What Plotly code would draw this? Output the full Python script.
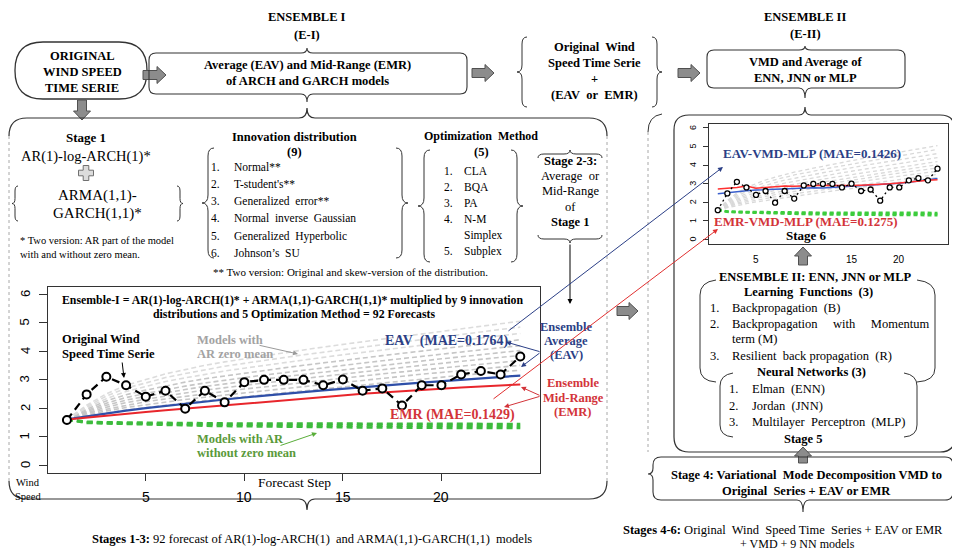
import plotly.graph_objects as go

W, H = 960, 553
OX, OY = 8, 8   # page body margin of the browser: figure starts at (8, 8)

# ---------------- data ----------------
STEPS = list(range(1, 25))
ORIGINAL = [1.58, 2.48, 3.10, 2.80, 2.40, 2.61, 1.98, 2.61, 2.20, 2.91, 2.99, 2.99,
            2.99, 2.80, 3.00, 2.61, 2.69, 2.09, 2.80, 2.80, 3.18, 3.30, 3.18, 3.81]
EAV = [1.60, 1.71, 1.81, 1.91, 2.00, 2.08, 2.16, 2.23, 2.30, 2.37, 2.44, 2.50,
       2.56, 2.62, 2.68, 2.73, 2.78, 2.84, 2.89, 2.94, 2.99, 3.04, 3.09, 3.14]
EMR = [1.60, 1.67, 1.74, 1.80, 1.86, 1.92, 1.98, 2.04, 2.10, 2.16, 2.22, 2.28,
       2.34, 2.40, 2.45, 2.50, 2.55, 2.60, 2.64, 2.68, 2.72, 2.76, 2.80, 2.83]
GRAY_MODELS = [
    [1.60, 1.72, 1.83, 1.93, 2.02, 2.10, 2.18, 2.26, 2.33, 2.40, 2.47, 2.54, 2.61, 2.68, 2.75, 2.82, 2.89, 2.96, 3.03, 3.09, 3.15, 3.21, 3.27, 3.33],
    [1.60, 1.76, 1.90, 2.02, 2.12, 2.21, 2.30, 2.38, 2.46, 2.53, 2.61, 2.68, 2.75, 2.83, 2.90, 2.97, 3.04, 3.12, 3.19, 3.25, 3.31, 3.38, 3.44, 3.50],
    [1.60, 1.80, 1.96, 2.10, 2.22, 2.32, 2.41, 2.51, 2.59, 2.67, 2.74, 2.82, 2.90, 2.97, 3.05, 3.12, 3.20, 3.27, 3.34, 3.41, 3.48, 3.54, 3.61, 3.67],
    [1.60, 1.83, 2.03, 2.19, 2.31, 2.43, 2.53, 2.63, 2.72, 2.80, 2.88, 2.96, 3.04, 3.12, 3.20, 3.27, 3.35, 3.43, 3.50, 3.57, 3.64, 3.71, 3.78, 3.85],
    [1.60, 1.87, 2.10, 2.28, 2.41, 2.54, 2.65, 2.76, 2.85, 2.93, 3.02, 3.10, 3.18, 3.26, 3.35, 3.42, 3.50, 3.58, 3.66, 3.73, 3.80, 3.87, 3.95, 4.02],
    [1.60, 1.91, 2.17, 2.37, 2.51, 2.65, 2.77, 2.88, 2.98, 3.07, 3.16, 3.24, 3.33, 3.41, 3.50, 3.58, 3.66, 3.74, 3.82, 3.89, 3.97, 4.04, 4.12, 4.19],
    [1.60, 1.96, 2.25, 2.47, 2.63, 2.78, 2.91, 3.03, 3.13, 3.22, 3.32, 3.41, 3.50, 3.59, 3.67, 3.76, 3.84, 3.92, 4.00, 4.08, 4.16, 4.24, 4.32, 4.40],
    [1.60, 2.01, 2.33, 2.58, 2.76, 2.93, 3.06, 3.19, 3.30, 3.40, 3.50, 3.59, 3.68, 3.78, 3.87, 3.95, 4.04, 4.12, 4.21, 4.29, 4.37, 4.46, 4.54, 4.62],
    [1.60, 2.05, 2.42, 2.70, 2.88, 3.07, 3.21, 3.35, 3.47, 3.57, 3.68, 3.77, 3.87, 3.96, 4.06, 4.15, 4.24, 4.32, 4.41, 4.50, 4.58, 4.67, 4.76, 4.84],
    [1.60, 2.10, 2.50, 2.80, 3.00, 3.20, 3.35, 3.50, 3.62, 3.73, 3.84, 3.94, 4.04, 4.14, 4.24, 4.33, 4.42, 4.51, 4.60, 4.69, 4.78, 4.87, 4.96, 5.05],
]
GREEN_MODELS = [
    [1.60, 1.52, 1.50, 1.49, 1.48, 1.48, 1.47, 1.47, 1.46, 1.46, 1.46, 1.45, 1.45, 1.45, 1.45, 1.44, 1.44, 1.44, 1.44, 1.44, 1.44, 1.44, 1.44, 1.44],
    [1.60, 1.50, 1.48, 1.46, 1.45, 1.44, 1.43, 1.42, 1.41, 1.41, 1.40, 1.40, 1.39, 1.39, 1.39, 1.38, 1.38, 1.38, 1.38, 1.37, 1.37, 1.37, 1.37, 1.37],
    [1.60, 1.48, 1.46, 1.44, 1.42, 1.41, 1.39, 1.38, 1.37, 1.36, 1.35, 1.34, 1.34, 1.33, 1.33, 1.32, 1.32, 1.31, 1.31, 1.31, 1.30, 1.30, 1.30, 1.30],
]
EAV_VMD_MLP = [2.46, 2.52, 2.58, 2.62, 2.66, 2.68, 2.70, 2.72, 2.76, 2.80, 2.79, 2.77,
               2.80, 2.83, 2.85, 2.88, 2.92, 2.95, 2.99, 3.03, 3.08, 3.14, 3.20, 3.28]
EMR_VMD_MLP = [2.72, 2.76, 2.80, 2.88, 2.76, 2.80, 2.84, 2.88, 2.86, 2.88, 2.90, 2.92,
               2.90, 2.88, 2.90, 2.92, 2.94, 2.96, 3.00, 3.04, 3.10, 3.14, 3.18, 3.22]
MAIN_XTICKS = [5, 10, 15, 20]
INSET_XTICKS = [5, 15, 20]
YTICKS = [0, 1, 2, 3, 4, 5, 6]

SERIF = "Liberation Serif"
SANS = "Liberation Sans"
BLUE_TXT = "#2b3f86"
RED_TXT = "#d3343a"


def xd(px):
    return (px - OX) / (W - OX)


def yd(py):
    return 1 - (py - OY) / (H - OY)


fig = go.Figure()

# ---------------- main chart traces ----------------
for i, g in enumerate(GRAY_MODELS):
    fig.add_trace(go.Scatter(x=STEPS, y=g, mode="lines", xaxis="x", yaxis="y",
                             line=dict(color="#c6c6c6" if i < 7 else "#dcdcdc", width=1.6, dash="5px,3px"),
                             hoverinfo="skip"))
for g in GREEN_MODELS:
    fig.add_trace(go.Scatter(x=STEPS, y=g, mode="lines", xaxis="x", yaxis="y",
                             line=dict(color="#3dbb3d", width=2.6, dash="6px,4px"), hoverinfo="skip"))
fig.add_trace(go.Scatter(x=STEPS, y=EAV, mode="lines", xaxis="x", yaxis="y",
                         line=dict(color="#2f4fa8", width=2.2)))
fig.add_trace(go.Scatter(x=STEPS, y=EMR, mode="lines", xaxis="x", yaxis="y",
                         line=dict(color="#e8262c", width=2.0)))
fig.add_trace(go.Scatter(x=STEPS, y=ORIGINAL, mode="lines+markers", xaxis="x", yaxis="y",
                         line=dict(color="black", width=2.2, dash="8px,5px"),
                         marker=dict(symbol="circle", size=8, color="white",
                                     line=dict(color="black", width=2))))

# ---------------- inset chart traces ----------------
for g in GRAY_MODELS:
    fig.add_trace(go.Scatter(x=STEPS, y=g, mode="lines", xaxis="x2", yaxis="y2",
                             line=dict(color="#d9d9d9", width=1.3, dash="4px,3px"), hoverinfo="skip"))
for g in GREEN_MODELS:
    fig.add_trace(go.Scatter(x=STEPS, y=g, mode="lines", xaxis="x2", yaxis="y2",
                             line=dict(color="#3dcc3d", width=2.2, dash="4px,3px"), hoverinfo="skip"))
fig.add_trace(go.Scatter(x=STEPS, y=EAV_VMD_MLP, mode="lines", xaxis="x2", yaxis="y2",
                         line=dict(color="#3a5fcd", width=1.5)))
fig.add_trace(go.Scatter(x=STEPS, y=EMR_VMD_MLP, mode="lines", xaxis="x2", yaxis="y2",
                         line=dict(color="#ff3030", width=1.5)))
fig.add_trace(go.Scatter(x=STEPS, y=ORIGINAL, mode="lines+markers", xaxis="x2", yaxis="y2",
                         line=dict(color="black", width=1.3, dash="2px,3px"),
                         marker=dict(symbol="circle", size=5, color="white",
                                     line=dict(color="black", width=1.3))))

# dummy trace on the canvas axes (pixel coordinates)
fig.add_trace(go.Scatter(x=[OX], y=[OY], xaxis="x3", yaxis="y3", mode="markers",
                         marker=dict(opacity=0), hoverinfo="skip"))

# ---------------- helpers ----------------
shapes = []
anns = []


def f(v):
    return f"{v:.1f}"


def pshape(path, color="#333", width=1.2, dash="solid", fill=None):
    d = dict(type="path", path=path, xref="x3", yref="y3", layer="above",
             line=dict(color=color, width=width, dash=dash))
    if fill:
        d["fillcolor"] = fill
    shapes.append(d)


def lshape(x0, y0, x1, y1, color="#333", width=1.0, dash="solid"):
    shapes.append(dict(type="line", x0=x0, y0=y0, x1=x1, y1=y1, xref="x3", yref="y3",
                       layer="above", line=dict(color=color, width=width, dash=dash)))


def rbox(x0, y0, x1, y1, r, top=None, bottom=None, left=None, right=None):
    p = [f"M{f(x0 + r)},{f(y0)}"]
    if top:
        xc, t = top
        p += [f"L{f(xc - 6)},{f(y0)}", f"Q{f(xc)},{f(y0)} {f(xc)},{f(y0 - t)}",
              f"Q{f(xc)},{f(y0)} {f(xc + 6)},{f(y0)}"]
    p += [f"L{f(x1 - r)},{f(y0)}", f"Q{f(x1)},{f(y0)} {f(x1)},{f(y0 + r)}"]
    if right:
        yc, t = right
        p += [f"L{f(x1)},{f(yc - 6)}", f"Q{f(x1)},{f(yc)} {f(x1 + t)},{f(yc)}",
              f"Q{f(x1)},{f(yc)} {f(x1)},{f(yc + 6)}"]
    p += [f"L{f(x1)},{f(y1 - r)}", f"Q{f(x1)},{f(y1)} {f(x1 - r)},{f(y1)}"]
    if bottom:
        xc, t = bottom
        p += [f"L{f(xc + 6)},{f(y1)}", f"Q{f(xc)},{f(y1)} {f(xc)},{f(y1 + t)}",
              f"Q{f(xc)},{f(y1)} {f(xc - 6)},{f(y1)}"]
    p += [f"L{f(x0 + r)},{f(y1)}", f"Q{f(x0)},{f(y1)} {f(x0)},{f(y1 - r)}"]
    if left:
        yc, t = left
        p += [f"L{f(x0)},{f(yc + 6)}", f"Q{f(x0)},{f(yc)} {f(x0 - t)},{f(yc)}",
              f"Q{f(x0)},{f(yc)} {f(x0)},{f(yc - 6)}"]
    p += [f"L{f(x0)},{f(y0 + r)}", f"Q{f(x0)},{f(y0)} {f(x0 + r)},{f(y0)}", "Z"]
    return " ".join(p)


def vbrace(xt, xb, y0, y1, yt=None, r=7):
    yt = (y0 + y1) / 2 if yt is None else yt
    xm = (xt + xb) / 2
    return (f"M{f(xb)},{f(y0)} Q{f(xm)},{f(y0)} {f(xm)},{f(y0 + r)} L{f(xm)},{f(yt - r)} "
            f"Q{f(xm)},{f(yt)} {f(xt)},{f(yt)} Q{f(xm)},{f(yt)} {f(xm)},{f(yt + r)} "
            f"L{f(xm)},{f(y1 - r)} Q{f(xm)},{f(y1)} {f(xb)},{f(y1)}")


def hbrace(yt, yb, x0, x1, xt=None, r=7):
    xt = (x0 + x1) / 2 if xt is None else xt
    ym = (yt + yb) / 2
    return (f"M{f(x0)},{f(yb)} Q{f(x0)},{f(ym)} {f(x0 + r)},{f(ym)} L{f(xt - r)},{f(ym)} "
            f"Q{f(xt)},{f(ym)} {f(xt)},{f(yt)} Q{f(xt)},{f(ym)} {f(xt + r)},{f(ym)} "
            f"L{f(x1 - r)},{f(ym)} Q{f(x1)},{f(ym)} {f(x1)},{f(yb)}")


def arrow_right(x0, x1, yc, bh=4.5, hh=8.5, hl=9):
    xh = x1 - hl
    p = (f"M{f(x0)},{f(yc - bh)} L{f(xh)},{f(yc - bh)} L{f(xh)},{f(yc - hh)} L{f(x1)},{f(yc)} "
         f"L{f(xh)},{f(yc + hh)} L{f(xh)},{f(yc + bh)} L{f(x0)},{f(yc + bh)} Z")
    pshape(p, color="#505050", width=1, fill="#8c8c8c")


def arrow_vert(xc, y_tail, y_tip, bh=4.5, hh=8.5, hl=9):
    s = 1 if y_tip > y_tail else -1
    yh = y_tip - s * hl
    p = (f"M{f(xc - bh)},{f(y_tail)} L{f(xc - bh)},{f(yh)} L{f(xc - hh)},{f(yh)} L{f(xc)},{f(y_tip)} "
         f"L{f(xc + hh)},{f(yh)} L{f(xc + bh)},{f(yh)} L{f(xc + bh)},{f(y_tail)} Z")
    pshape(p, color="#505050", width=1, fill="#8c8c8c")


def txt(x, y, text, size=12.5, color="black", anchor="center", family=SERIF,
        xref="x3", yref="y3", angle=0):
    anns.append(dict(x=x, y=y, xref=xref, yref=yref, text=text, showarrow=False,
                     xanchor=anchor, yanchor="middle", textangle=angle,
                     font=dict(family=family, size=size, color=color)))


def arr(x_tail, y_tail, x_head, y_head, color="black", width=1.0, head=2, size=1.0):
    anns.append(dict(x=x_head, y=y_head, ax=x_tail, ay=y_tail, xref="x3", yref="y3",
                     axref="x3", ayref="y3", text="", showarrow=True, arrowhead=head,
                     arrowsize=size, arrowwidth=width, arrowcolor=color, standoff=0,
                     startstandoff=0))


# ---------------- tick labels placed like the R figure ----------------
for t in MAIN_XTICKS:
    txt(t, 497, str(t), 14, family=SANS, xref="x")
for t in YTICKS:
    txt(25, t, str(t), 13, family=SANS, yref="y", angle=-90)
for t in INSET_XTICKS:
    txt(t, 259, str(t), 10, family=SANS, xref="x2")
for t in YTICKS:
    txt(693, t, str(t), 9, family=SANS, yref="y2", angle=-90)

# ---------------- top row ----------------
txt(307, 17, "<b>ENSEMBLE I</b>", 12.5)
txt(307, 35, "<b>(E-I)</b>", 12.5)
pshape(rbox(15, 42, 147, 99, 28), color="#333", width=1.3)
txt(82, 56, "<b>ORIGINAL</b>", 12.5)
txt(82, 72, "<b>WIND SPEED</b>", 12.5)
txt(82, 88, "<b>TIME SERIE</b>", 12.5)
arrow_right(143, 166, 75)
pshape(rbox(149, 53, 467, 94, 7, top=(307, 5), bottom=(307, 8)), width=1.1)
txt(307, 65, "<b>Average (EAV) and Mid-Range (EMR)</b>", 12.5)
txt(307, 81, "<b>of ARCH and GARCH models</b>", 12.5)
arrow_right(472, 494, 73)
pshape(vbrace(517, 527, 37, 107), width=1.0)
pshape(vbrace(662, 652, 37, 107), width=1.0)
txt(594, 47, "<b>Original\u00a0 Wind</b>", 12.5)
txt(594, 63, "<b>Speed Time Serie</b>", 12.5)
txt(594, 79, "<b>+</b>", 12.5)
txt(594, 95, "<b>(EAV\u00a0 or\u00a0 EMR)</b>", 12.5)
arrow_right(678, 700, 73)
txt(805, 17, "<b>ENSEMBLE II</b>", 12.5)
txt(805, 34, "<b>(E-II)</b>", 12.5)
pshape(rbox(707, 50, 905, 88, 7, top=(805, 4), bottom=(805, 10)), width=1.1)
txt(805, 62, "<b>VMD and Average of</b>", 12.5)
txt(805, 78, "<b>ENN, JNN or MLP</b>", 12.5)
arrow_vert(82, 100, 120)

# ---------------- left panel ----------------
pshape("M9,136 Q9,118 27,118 L299,118 Q307,118 307,108 Q307,118 315,118 L589,118 Q607,118 607,136",
       width=1.2)
pshape("M9,481 Q9,499 27,499 L299,499 Q307,499 307,510 Q307,499 315,499 L589,499 Q607,499 607,481",
       width=1.2)
lshape(9, 136, 9, 481, color="#a8a8a8", width=1, dash="3px,3px")
lshape(607, 136, 607, 481, color="#a8a8a8", width=1, dash="3px,3px")

txt(86, 137, "<b>Stage 1</b>", 13)
txt(86, 156, "AR(1)-log-ARCH(1)*", 14.5)
cx, cy, a, L = 86, 173, 2.8, 7.5
pshape(f"M{cx-a},{cy-L} L{cx+a},{cy-L} L{cx+a},{cy-a} L{cx+L},{cy-a} L{cx+L},{cy+a} L{cx+a},{cy+a} "
       f"L{cx+a},{cy+L} L{cx-a},{cy+L} L{cx-a},{cy+a} L{cx-L},{cy+a} L{cx-L},{cy-a} L{cx-a},{cy-a} Z",
       color="#707070", width=1, fill="#dcdcdc")
pshape(vbrace(12, 18, 186, 221, r=5), width=1.0)
pshape(vbrace(183, 177, 186, 221, r=5), width=1.0)
txt(97, 195, "ARMA(1,1)-", 15)
txt(97, 213, "GARCH(1,1)*", 15)
txt(18, 240, "* Two version: AR part of the model", 10.5, anchor="left")
txt(18, 254, "with and without zero mean.", 10.5, anchor="left")

txt(294, 137, "<b>Innovation distribution</b>", 12.5)
txt(294, 152, "<b>(9)</b>", 12.5)
pshape(vbrace(202, 214, 148, 258, r=8), width=1.0)
pshape(vbrace(408, 396, 148, 258, r=8), width=1.0)
innov = ["Normal**", "T-student's**", "Generalized\u00a0 error**", "Normal\u00a0 inverse\u00a0 Gaussian",
         "Generalized\u00a0 Hyperbolic", "Johnson’s\u00a0 SU"]
for i, (t, yy) in enumerate(zip(innov, [167, 184, 201, 218, 236, 253])):
    txt(222, yy, f"{i + 1}.", 11.5, anchor="right")
    txt(232, yy, t, 11.5, anchor="left")
txt(211, 272, "** Two version: Original and skew-version of the distribution.", 11, anchor="left")

txt(481, 136, "<b>Optimization\u00a0 Method</b>", 12)
txt(481, 152, "<b>(5)</b>", 12.5)
pshape(vbrace(418, 430, 150, 262, r=8), width=1.0)
pshape(vbrace(523, 511, 150, 262, r=8), width=1.0)
opt = [("1.", "CLA", 171), ("2.", "BQA", 187), ("3.", "PA", 203), ("4.", "N-M", 219),
       ("", "Simplex", 235), ("5.", "Subplex", 251)]
for n, t, yy in opt:
    if n:
        txt(455, yy, n, 11.5, anchor="right")
    txt(462, yy, t, 11.5, anchor="left")

pshape(hbrace(150, 158, 538, 602, r=6), width=1.0)
txt(570, 161, "<b>Stage 2-3:</b>", 12.5)
txt(570, 176, "Average\u00a0 or", 12.5)
txt(570, 191, "Mid-Range", 12.5)
txt(570, 207, "of", 12.5)
txt(570, 222, "<b>Stage 1</b>", 12.5)
pshape(hbrace(243, 235, 538, 602, r=6), width=1.0)
arr(570, 243, 570, 304, color="black", width=1.0, head=2, size=1.0)

# main chart annotations
txt(60, 300, "<b>Ensemble-I = AR(1)-log-ARCH(1)* + ARMA(1,1)-GARCH(1,1)* multiplied by 9 innovation</b>",
    11.8, anchor="left")
txt(294, 314, "<b>distributions and 5 Optimization Method = 92 Forecasts</b>", 11.8)
txt(60, 339, "<b>Original Wind</b>", 12.5, anchor="left")
txt(60, 354, "<b>Speed Time Serie</b>", 12.5, anchor="left")
arr(122, 361, 124, 378)
txt(195, 340, "<b>Models with</b>", 12.5, color="#a3a3a3", anchor="left")
txt(195, 354, "<b>AR zero mean</b>", 12.5, color="#a3a3a3", anchor="left")
arr(258, 345, 298, 354, color="#9a9a9a")
txt(195, 439, "<b>Models with AR</b>", 12.5, color="#5a9a3a", anchor="left")
txt(195, 453, "<b>without zero mean</b>", 12.5, color="#5a9a3a", anchor="left")
arr(279, 446, 317, 433, color="#5aae3a")
txt(447, 341, "<b>EAV\u00a0 (MAE=0.1764)</b>", 14, color=BLUE_TXT)
txt(452, 415, "<b>EMR (MAE=0.1429)</b>", 14, color=RED_TXT)
txt(566, 327, "<b>Ensemble</b>", 12.5, color=BLUE_TXT)
txt(566, 341, "<b>Average</b>", 12.5, color=BLUE_TXT)
txt(566, 355, "<b>(EAV)</b>", 12.5, color=BLUE_TXT)
arr(541, 352, 506, 342, color=BLUE_TXT)
arr(541, 352, 521, 367, color=BLUE_TXT)
txt(573, 383, "<b>Ensemble</b>", 12.5, color=RED_TXT)
txt(573, 398, "<b>Mid-Range</b>", 12.5, color=RED_TXT)
txt(573, 412, "<b>(EMR)</b>", 12.5, color=RED_TXT)
arr(541, 396, 521, 387, color=RED_TXT)
arr(541, 396, 504, 407, color=RED_TXT)
txt(28, 482, "Wind", 10.5)
txt(28, 496, "Speed", 10.5)
txt(294, 482, "Forecast Step", 13.5)
arrow_right(617, 638, 311)

# long connector arrows to the inset chart
arr(507, 332, 723, 167, color="#2b3f86", width=1.0)
arr(492, 400, 718, 229, color="#e03030", width=1.0)

# ---------------- right panel ----------------
pshape(rbox(674, 115, 955, 452, 15, top=(805, 8)), width=1.2)
pshape("M648,132 Q648,116 662,114", width=1.0)
lshape(648, 132, 648, 452, color="#a8a8a8", width=1, dash="3px,3px")
lshape(958, 132, 958, 452, color="#a8a8a8", width=1, dash="3px,3px")

txt(812, 153, "<b>EAV-VMD-MLP (MAE=0.1426)</b>", 13, color=BLUE_TXT)
txt(806, 221, "<b>EMR-VMD-MLP (MAE=0.1275)</b>", 13, color=RED_TXT)
txt(806, 235, "<b>Stage 6</b>", 13)
arrow_vert(803, 265, 247)
txt(815, 277, "<b>ENSEMBLE II: ENN, JNN or MLP</b>", 12.5)
txt(808, 292, "<b>Learning\u00a0 Functions\u00a0 (3)</b>", 12.5)
pshape("M716,280 Q700,282 700,295 L700,368 Q700,381 716,382", width=1.0)
pshape("M917,280 Q935,282 935,295 L935,368 Q935,381 917,382", width=1.0)
learn = [("1.", "Backpropagation\u00a0 (B)", 308),
         ("2.", "Backpropagation\u00a0\u00a0\u00a0\u00a0 with\u00a0\u00a0\u00a0\u00a0 Momentum", 324),
         ("", "term (M)", 339),
         ("3.", "Resilient\u00a0 back propagation\u00a0 (R)", 356)]
for n, t, yy in learn:
    if n:
        txt(721, yy, n, 12.5, anchor="right")
    txt(730, yy, t, 12.5, anchor="left")
txt(811, 372, "<b>Neural Networks (3)</b>", 12.5)
pshape("M733,373 Q720,375 720,386 L720,425 Q720,436 733,437", width=1.0)
pshape("M904,373 Q917,375 917,386 L917,425 Q917,436 904,437", width=1.0)
nn = [("1.", "Elman\u00a0 (ENN)", 389), ("2.", "Jordan\u00a0 (JNN)", 406),
      ("3.", "Multilayer\u00a0 Perceptron\u00a0 (MLP)", 422)]
for n, t, yy in nn:
    txt(740, yy, n, 12.5, anchor="right")
    txt(750, yy, t, 12.5, anchor="left")
txt(803, 439, "<b>Stage 5</b>", 12.5)
arrow_vert(803, 463, 447)
pshape(rbox(653, 457, 953, 500, 8, left=(474, 5), right=(474, 5), bottom=(803, 12)), width=1.1)
txt(806, 475, "<b>Stage 4: Variational\u00a0 Mode Decomposition VMD to</b>", 12.5)
txt(806, 491, "<b>Original\u00a0 Series + EAV or EMR</b>", 12.5)
txt(783, 530, "<b>Stages 4-6:</b> Original\u00a0 Wind\u00a0 Speed Time\u00a0 Series + EAV or EMR", 12.5)
txt(797, 544, "+ VMD + 9 NN models", 12)
txt(312, 539, "<b>Stages 1-3:</b> 92 forecast of AR(1)-log-ARCH(1)\u00a0 and ARMA(1,1)-GARCH(1,1)\u00a0 models",
    12.5)

# ---------------- layout ----------------
axis_common = dict(showgrid=False, zeroline=False, showline=True, mirror=True,
                   linecolor="#333333", fixedrange=True)
fig.update_layout(
    width=W - OX, height=H - OY, autosize=False,
    margin=dict(l=0, r=0, t=0, b=0),
    paper_bgcolor="white", plot_bgcolor="rgba(0,0,0,0)",
    showlegend=False,
    xaxis=dict(domain=[xd(48), xd(540)], range=[0.04, 25.0], anchor="y",
               tickvals=MAIN_XTICKS, ticks="outside", ticklen=7, tickcolor="#333",
               showticklabels=False, linewidth=1.3, **axis_common),
    yaxis=dict(domain=[yd(473), yd(287)], range=[-0.28, 6.25], anchor="x",
               tickvals=YTICKS, ticks="outside", ticklen=8, tickcolor="#333",
               showticklabels=False, linewidth=1.3, **axis_common),
    xaxis2=dict(domain=[xd(709), xd(948)], range=[0.08, 25.1], anchor="y2",
                tickvals=INSET_XTICKS, ticks="", showticklabels=False, linewidth=1, **axis_common),
    yaxis2=dict(domain=[yd(244), yd(124)], range=[-0.24, 6.21], anchor="x2",
                tickvals=YTICKS, ticks="outside", ticklen=5, tickcolor="#333",
                showticklabels=False, linewidth=1, **axis_common),
    xaxis3=dict(domain=[0, 1], range=[OX, W], anchor="y3", visible=False, fixedrange=True),
    yaxis3=dict(domain=[0, 1], range=[H, OY], anchor="x3", visible=False, fixedrange=True),
    shapes=shapes,
    annotations=anns,
)

fig.write_html("out.html")
